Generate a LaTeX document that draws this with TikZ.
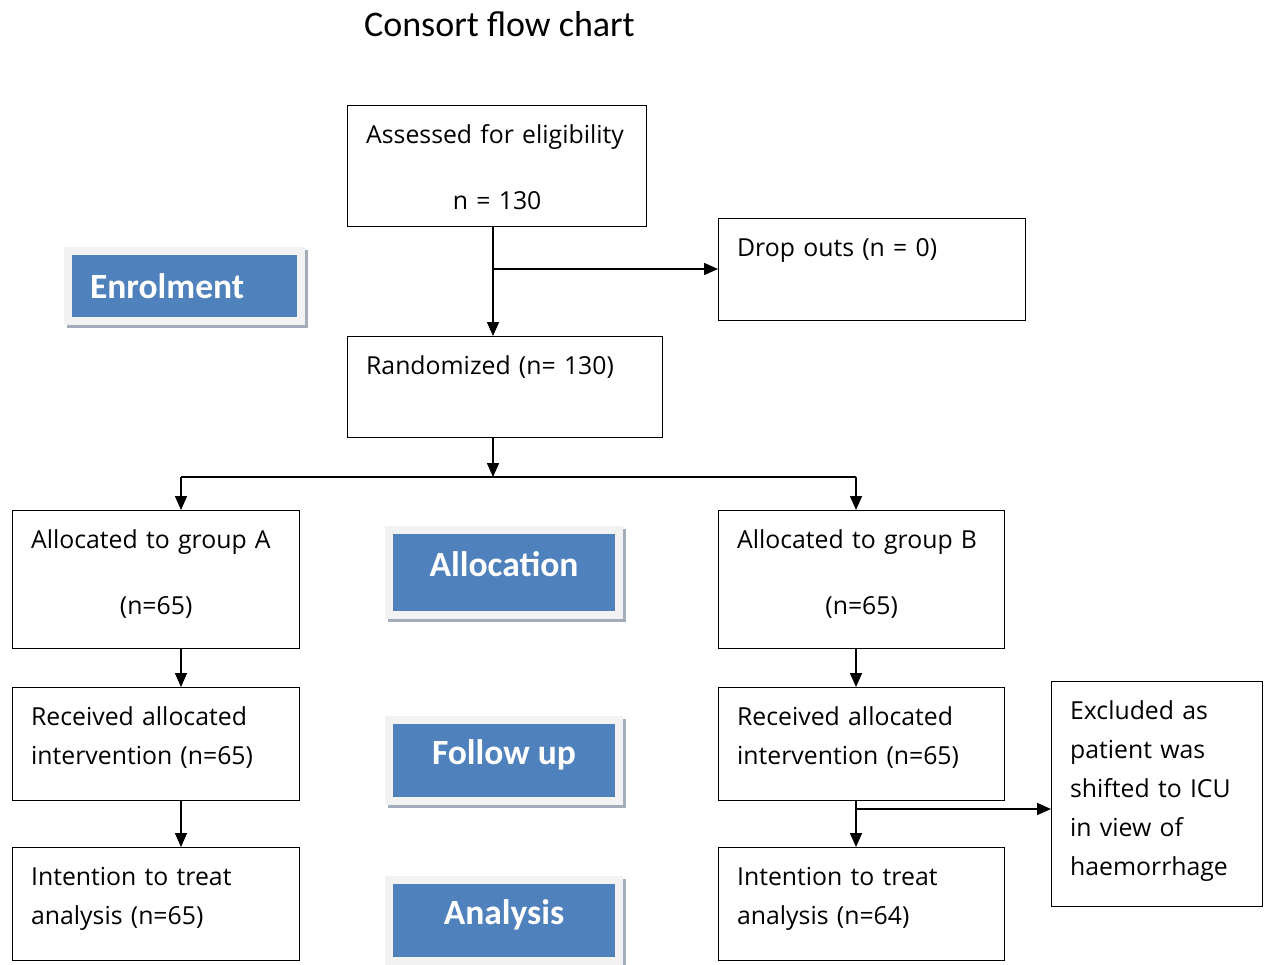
\documentclass[tikz,border=0pt]{standalone}
\usepackage{fontspec}
\setmainfont{Open Sans}
\newfontfamily\labelfont{Carlito}
\usetikzlibrary{arrows.meta}
\definecolor{stageblue}{HTML}{4F81BD}
\definecolor{stageframe}{HTML}{F2F2F2}
\definecolor{stageshade}{HTML}{A3ADBA}

\begin{document}
\begin{tikzpicture}[x=1pt, y=-1pt,
	box/.style={draw, line width=1.3pt, anchor=north west, inner xsep=18.5pt, inner ysep=0pt, text height=37.5pt, align=left, font=\fontsize{24.8}{39}\selectfont},
	stage/.style={fill=stageblue, draw=stageframe, line width=8pt, text=white, inner sep=0pt, minimum width=230pt, minimum height=81pt, font=\labelfont\bfseries\fontsize{35.5}{40}\selectfont, preaction={fill=stageshade, draw=stageshade, transform canvas={xshift=3pt, yshift=-3pt}}},
	raised/.style={text height=25pt, text depth=17pt},
	arr/.style={line width=1.5pt, -{Triangle[length=14pt, width=12pt]}},
	link/.style={line width=1.5pt}]

	\useasboundingbox (0,0) rectangle (1265,964);

	\node[font=\labelfont\fontsize{36}{40}\selectfont, anchor=base] (title) at (499.5,36) {Consort flow chart};

	% stage labels
	\node[stage, minimum width=233pt, minimum height=70pt, text width=189pt, align=left] (enrol) at (184.5,286) {Enrolment};
	\node[stage, raised, minimum height=85pt] (alloc) at (504,572.5) {Allocation};
	\node[stage, raised] (follow) at (504,760.5) {Follow up};
	\node[stage, raised] (analysis) at (504,920.5) {Analysis};

	% boxes
	\node[box, text width=262pt, text depth=83.5pt] (assess) at (347,105) {Assessed for eligibility\\[27pt]\makebox[\linewidth]{n = 130}};
	\node[box, text width=270pt, text depth=64.5pt] (drop) at (718,218) {Drop outs (n = 0)};
	\node[box, text width=278pt, text depth=63.5pt] (random) at (347,336) {Randomized (n= 130)};
	\node[box, text width=250pt, text depth=100.5pt] (groupA) at (12,510) {Allocated to group A\\[27pt]\makebox[\linewidth]{(n=65)}};
	\node[box, text width=249pt, text depth=100.5pt] (groupB) at (718,510) {Allocated to group B\\[27pt]\makebox[\linewidth]{(n=65)}};
	\node[box, text width=250pt, text depth=75.5pt] (recvA) at (12,687) {Received allocated\\intervention (n=65)};
	\node[box, text width=249pt, text depth=75.5pt] (recvB) at (718,687) {Received allocated\\intervention (n=65)};
	\node[box, text width=250pt, text depth=75.5pt] (itA) at (12,847) {Intention to treat\\analysis (n=65)};
	\node[box, text width=249pt, text depth=75.5pt] (itB) at (718,847) {Intention to treat\\analysis (n=64)};
	\node[box, text width=174pt, text depth=187.5pt] (excl) at (1051,681) {Excluded as\\patient was\\shifted to ICU\\in view of\\haemorrhage};

	\coordinate (trunk) at (493,269);
	\coordinate (fork) at (493,477);
	\coordinate (colA) at (181,477);
	\coordinate (colB) at (856,477);
	\coordinate (tap) at (856,809);

	% connectors
	\draw[arr] (assess.south -| trunk) -- (random.north -| trunk);
	\draw[arr] (trunk) -- (drop.west |- trunk);
	\draw[arr] (random.south -| fork) -- (fork);
	\draw[link] (colA) -- (colB);
	\draw[arr] (colA) -- (groupA.north -| colA);
	\draw[arr] (colB) -- (groupB.north -| colB);
	\draw[arr] (groupA.south -| colA) -- (recvA.north -| colA);
	\draw[arr] (recvA.south -| colA) -- (itA.north -| colA);
	\draw[arr] (groupB.south -| colB) -- (recvB.north -| colB);
	\draw[arr] (recvB.south -| colB) -- (itB.north -| colB);
	\draw[arr] (tap) -- (excl.west |- tap);

\end{tikzpicture}
\end{document}
